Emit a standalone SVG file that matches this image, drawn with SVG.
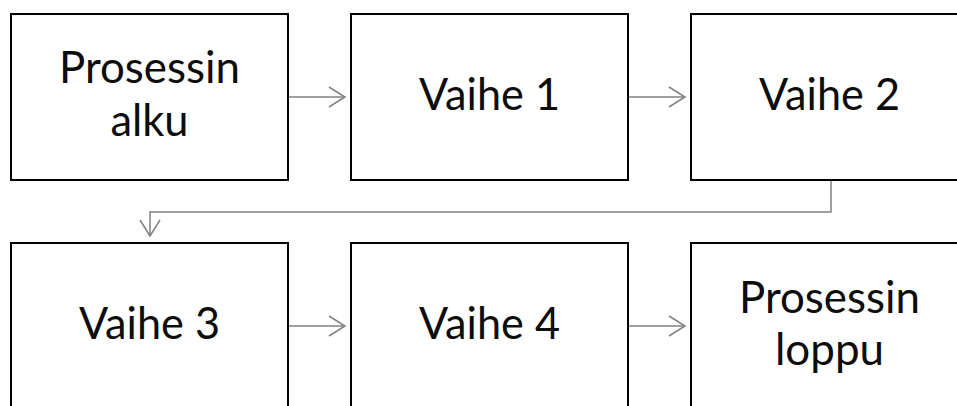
<svg xmlns="http://www.w3.org/2000/svg" width="957" height="406" viewBox="0 0 957 406">
  <style>
    .box { fill: #ffffff; stroke: #000000; stroke-width: 2; }
    .lbl { font-family: Lato, "Open Sans", sans-serif; font-size: 44px; fill: #0d0d0d; text-anchor: middle; }
    .con { fill: none; stroke: #808080; stroke-width: 1.5; }
  </style>
  <defs>
    <marker id="arr" markerUnits="userSpaceOnUse" viewBox="0 0 20 24" refX="17" refY="12" markerWidth="20" markerHeight="24" orient="auto">
      <polyline points="1,2 17,12 1,22" fill="none" stroke="#808080" stroke-width="1.5"/>
    </marker>
  </defs>
  <rect width="957" height="406" fill="#ffffff"/>
  <g id="connectors">
    <line class="con" x1="288" y1="97" x2="345" y2="97" marker-end="url(#arr)"/>
    <line class="con" x1="628" y1="97" x2="685" y2="97" marker-end="url(#arr)"/>
    <polyline class="con" points="831,180 831,212 150,212 150,236" marker-end="url(#arr)"/>
    <line class="con" x1="288" y1="326" x2="345" y2="326" marker-end="url(#arr)"/>
    <line class="con" x1="628" y1="326" x2="685" y2="326" marker-end="url(#arr)"/>
  </g>
  <g id="start">
    <rect class="box" x="11" y="14" width="277" height="166"/>
    <text class="lbl" x="149.5" y="83" textLength="181" lengthAdjust="spacingAndGlyphs">Prosessin</text>
    <text class="lbl" x="149.5" y="136" textLength="78" lengthAdjust="spacingAndGlyphs">alku</text>
  </g>
  <g id="step1">
    <rect class="box" x="351" y="14" width="277" height="166"/>
    <text class="lbl" x="489.5" y="110" textLength="141" lengthAdjust="spacingAndGlyphs">Vaihe 1</text>
  </g>
  <g id="step2">
    <rect class="box" x="691" y="14" width="277" height="166"/>
    <text class="lbl" x="829.5" y="110" textLength="141" lengthAdjust="spacingAndGlyphs">Vaihe 2</text>
  </g>
  <g id="step3">
    <rect class="box" x="11" y="243" width="277" height="166"/>
    <text class="lbl" x="149.5" y="339" textLength="141" lengthAdjust="spacingAndGlyphs">Vaihe 3</text>
  </g>
  <g id="step4">
    <rect class="box" x="351" y="243" width="277" height="166"/>
    <text class="lbl" x="489.5" y="339" textLength="141" lengthAdjust="spacingAndGlyphs">Vaihe 4</text>
  </g>
  <g id="end">
    <rect class="box" x="691" y="243" width="277" height="166"/>
    <text class="lbl" x="829.5" y="313" textLength="181" lengthAdjust="spacingAndGlyphs">Prosessin</text>
    <text class="lbl" x="829.5" y="365" textLength="109" lengthAdjust="spacingAndGlyphs">loppu</text>
  </g>
</svg>
